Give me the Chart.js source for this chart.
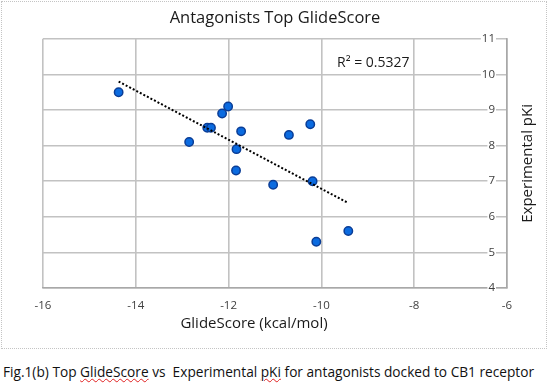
<!DOCTYPE html>
<html>
<head>
<meta charset="utf-8">
<script src="https://cdn.jsdelivr.net/npm/chart.js@4.4.1/dist/chart.umd.min.js"></script>
<style>
  body { margin: 0; background: #fff; width: 549px; height: 383px; overflow: hidden; position: relative; font-family: 'Open Sans', sans-serif; }
  #frame { position: absolute; left: 1px; top: 1px; width: 544px; height: 346px; border: 1px dotted #c4c4c4; }
  #wrap { position: absolute; left: 0; top: 0; width: 549px; height: 352px; }
  #caption { position: absolute; left: 3px; top: 362px; font-size: 13.7px; line-height: 20px; color: #111; white-space: pre; }
  .sq { text-decoration: underline wavy #e02020; text-decoration-thickness: 1px; text-underline-offset: 1px; }
</style>
</head>
<body>
<div id="frame"></div>
<div id="wrap"><canvas id="myChart" width="549" height="352"></canvas></div>
<div id="caption">Fig.1(b) Top <span class="sq">GlideScore</span> vs  Experimental <span class="sq">pKi</span> for antagonists docked to CB1 receptor</div>

<script>
// valores
const glideScore = [-14.37, -12.85, -12.46, -12.38, -12.14, -12.01, -11.73, -11.83, -11.84, -11.04, -10.70, -10.24, -10.19, -10.11, -9.42];
const pKi = [9.5, 8.1, 8.5, 8.5, 8.9, 9.1, 8.4, 7.9, 7.3, 6.9, 8.3, 8.6, 7.0, 5.3, 5.6];

// linha de tendencia (pontas)
const trendX = [-14.37, -9.44];
const trendY = [9.80, 6.40];

const xTicks = [-16, -14, -12, -10, -8, -6];
const yTicks = [4, 5, 6, 7, 8, 9, 10, 11];

const fonte = "'Open Sans', sans-serif";
const gridColor = '#c2c2c2';

// textos extras: R², titulos dos eixos
const textosExtras = {
    id: 'textosExtras',
    afterDraw(chart) {
        const { ctx, chartArea } = chart;
        ctx.save();
        ctx.fillStyle = '#1a1a1a';
        ctx.textBaseline = 'middle';

        ctx.font = '14px ' + fonte;
        ctx.textAlign = 'left';
        ctx.fillText('R² = 0.5327', chartArea.left + 294, chartArea.top + 24);

        ctx.font = '15px ' + fonte;
        ctx.textAlign = 'center';
        ctx.fillText('GlideScore (kcal/mol)', 254, chartArea.bottom + 36);

        ctx.translate(chartArea.right + 21, (chartArea.top + chartArea.bottom) / 2);
        ctx.rotate(-Math.PI / 2);
        ctx.fillText('Experimental pKi', 0, 0);
        ctx.restore();
    }
};

const ctx = document.getElementById('myChart');
const myChart = new Chart(ctx, {
    type: 'scatter',
    data: {
        datasets: [{
            type: 'line',
            label: 'Tendencia',
            data: trendX.map((x, i) => ({ x: x, y: trendY[i] })),
            borderColor: '#000',
            borderWidth: 2,
            borderDash: [2, 2],
            pointRadius: 0,
            fill: false,
            order: 0
        }, {
            label: 'Antagonists',
            data: glideScore.map((x, i) => ({ x: x, y: pKi[i] })),
            backgroundColor: '#0b6be0',
            borderColor: '#0a3d96',
            borderWidth: 1.5,
            pointRadius: 4.2,
            order: 1
        }]
    },
    options: {
        responsive: false,
        animation: false,
        devicePixelRatio: 1,
        layout: { padding: { left: 43, right: 42, top: 0, bottom: 34 } },
        plugins: {
            legend: { display: false },
            tooltip: { enabled: false },
            title: {
                display: true,
                text: 'Antagonists Top GlideScore',
                color: '#1a1a1a',
                font: { family: fonte, size: 16.5, weight: 'normal' },
                padding: { top: 8, bottom: 11 }
            }
        },
        scales: {
            x: {
                type: 'linear',
                min: -16,
                max: -6,
                afterBuildTicks: (scale) => { scale.ticks = xTicks.map(v => ({ value: v })); },
                afterFit: (scale) => { scale.height = 30; },
                ticks: { color: '#404040', font: { family: fonte, size: 11.5 }, padding: 11 },
                grid: { color: gridColor, lineWidth: 1.6, drawTicks: false },
                border: { color: '#a8a8a8', width: 1.6 }
            },
            y: {
                type: 'linear',
                position: 'right',
                min: 4,
                max: 11,
                afterBuildTicks: (scale) => { scale.ticks = yTicks.map(v => ({ value: v })); },
                afterFit: (scale) => { scale.width = 0; },
                ticks: {
                    mirror: true,
                    padding: -12, // rotulos dentro da area do grafico
                    color: '#404040',
                    font: { family: fonte, size: 11.5 },
                    showLabelBackdrop: true,
                    backdropColor: '#fff',
                    backdropPadding: { left: 1, right: 1, top: 0, bottom: 0 }
                },
                grid: { color: gridColor, lineWidth: 1.6, drawTicks: false },
                border: { color: '#a8a8a8', width: 1.6 }
            }
        }
    },
    plugins: [textosExtras]
});
</script>
</body>
</html>
